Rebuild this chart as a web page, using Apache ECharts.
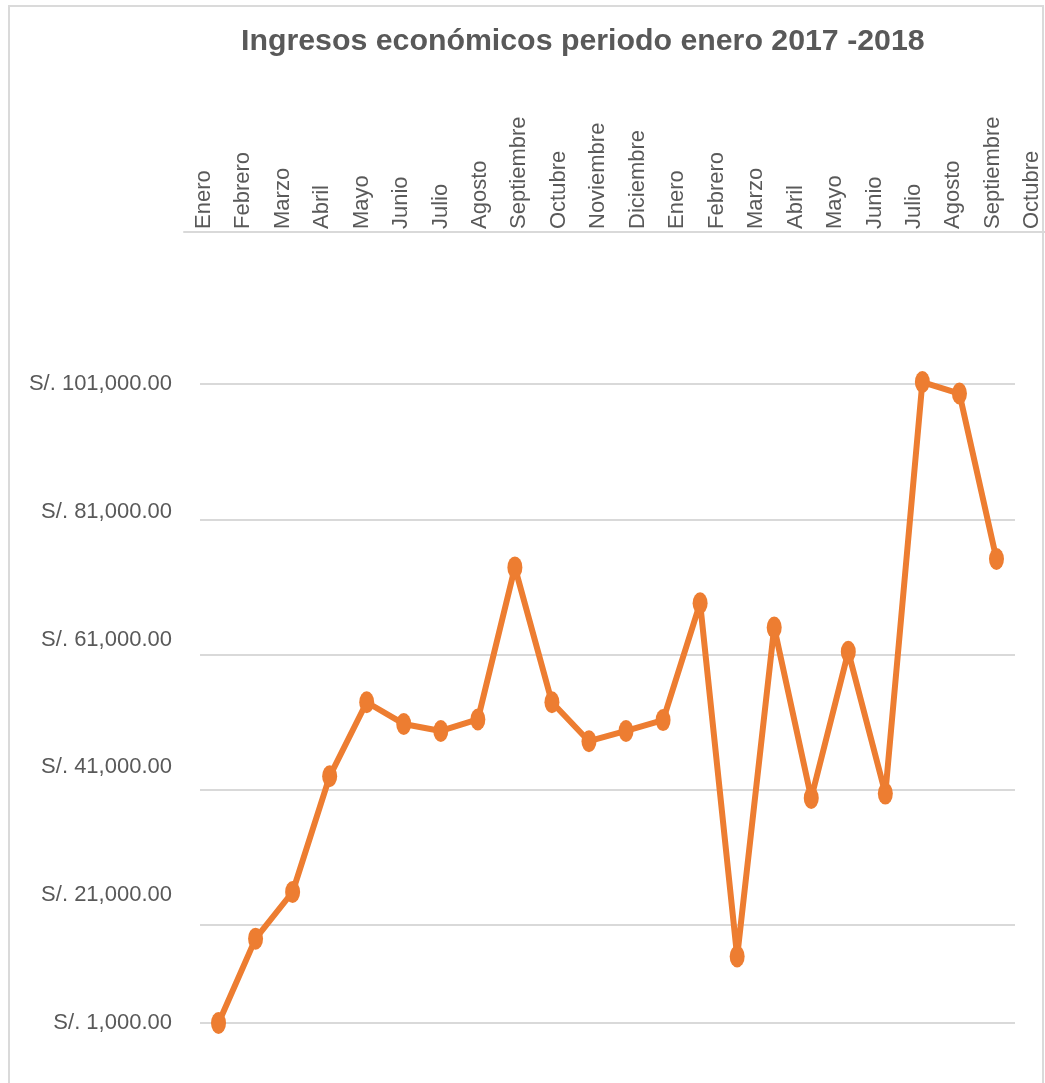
<!DOCTYPE html>
<html lang="es">
<head>
<meta charset="utf-8">
<title>Ingresos económicos periodo enero 2017 -2018</title>
<script src="https://cdn.jsdelivr.net/npm/echarts@6/dist/echarts.min.js"></script>
<style>
  html, body { margin: 0; padding: 0; background: #ffffff; }
  #frame {
    position: absolute; left: 8px; top: 5px; width: 1036px; height: 1100px;
    box-sizing: border-box; border: 2px solid #dadada; z-index: 0;
  }
  #chart { position: absolute; left: 0; top: 0; width: 1045px; height: 1083px; z-index: 1; }
</style>
</head>
<body>
<div id="frame"></div>
<div id="chart"></div>
<script>
// Months from enero 2017 to octubre 2018
const meses = ['Enero', 'Febrero', 'Marzo', 'Abril', 'Mayo', 'Junio', 'Julio', 'Agosto',
  'Septiembre', 'Octubre', 'Noviembre', 'Diciembre',
  'Enero', 'Febrero', 'Marzo', 'Abril', 'Mayo', 'Junio', 'Julio', 'Agosto',
  'Septiembre', 'Octubre'];

// Monthly income (S/.)
const ingresos = [1000, 14200, 21500, 39600, 51200, 47800, 46700, 48500, 72300, 51200,
  45100, 46700, 48400, 66700, 11400, 62900, 36200, 59100, 36900, 101300, 99500, 73600];

// Value-axis labels
const tickValues = [1000, 21000, 41000, 61000, 81000, 101000];
const tickLabels = ['S/. 1,000.00', 'S/. 21,000.00', 'S/. 41,000.00',
  'S/. 61,000.00', 'S/. 81,000.00', 'S/. 101,000.00'];

// Horizontal gridline values
const gridValues = [1000, 16300, 37500, 58700, 79800, 101000];

const FONT = '"Liberation Sans", Arial, sans-serif';
const GREY = '#595959';
const ORANGE = '#ED7D31';
const GRIDLINE = '#d9d9d9';

const chart = echarts.init(document.getElementById('chart'), null, { renderer: 'canvas' });

chart.setOption({
  animation: false,
  backgroundColor: 'transparent',
  title: {
    text: 'Ingresos económicos periodo enero 2017 -2018',
    left: 236,
    top: 22,
    textStyle: { fontFamily: FONT, fontSize: 30.3, fontWeight: 'bold', color: GREY }
  },
  grid: [
    // plot area
    { left: 200, right: 30, top: 384, bottom: 60, outerBoundsMode: 'none', containLabel: false },
    // month axis along the top
    { left: 184, width: 868, top: 232, height: 700, outerBoundsMode: 'none', containLabel: false }
  ],
  xAxis: [
    {
      gridIndex: 0,
      type: 'category',
      data: meses,
      boundaryGap: true,
      show: false
    },
    {
      gridIndex: 1,
      type: 'category',
      position: 'top',
      data: meses,
      boundaryGap: true,
      axisLine: { show: true, onZero: false, lineStyle: { color: GRIDLINE, width: 2 } },
      axisTick: { show: false },
      splitLine: { show: false },
      axisLabel: {
        interval: 0,
        rotate: -90,
        margin: 3,
        fontFamily: FONT,
        fontSize: 22,
        color: GREY
      }
    }
  ],
  yAxis: [
    {
      gridIndex: 0,
      type: 'value',
      min: 1000,
      max: 101000,
      axisLine: { show: false },
      axisTick: { show: false, customValues: gridValues },
      splitLine: { show: true, lineStyle: { color: GRIDLINE, width: 2 } },
      axisLabel: {
        customValues: tickValues,
        margin: 28,
        fontFamily: FONT,
        fontSize: 22,
        color: GREY,
        formatter: function (v) {
          const i = tickValues.indexOf(v);
          return i >= 0 ? tickLabels[i] : '';
        }
      }
    },
    {
      gridIndex: 1,
      type: 'value',
      show: false
    }
  ],
  series: [
    {
      type: 'line',
      name: 'Ingresos',
      xAxisIndex: 0,
      yAxisIndex: 0,
      data: ingresos,
      clip: false,
      symbol: 'path://M0,50A50,50,0,1,1,100,50A50,50,0,1,1,0,50Z',
      symbolSize: [15, 22],
      showSymbol: true,
      lineStyle: { color: ORANGE, width: 6 },
      itemStyle: { color: ORANGE, borderWidth: 0 },
      emphasis: { disabled: true }
    }
  ]
});
</script>
</body>
</html>
